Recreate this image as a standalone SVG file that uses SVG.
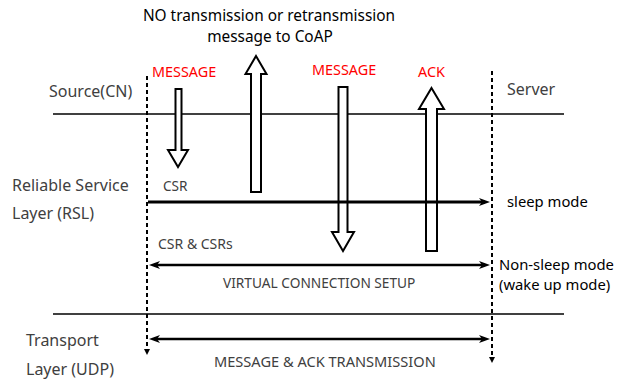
<svg xmlns="http://www.w3.org/2000/svg" width="623" height="382" viewBox="0 0 623 382">
<style>
text{font-family:"Noto Sans","Open Sans","DejaVu Sans",sans-serif;}
.lab{font-size:16px;fill:#404040;}
.blk{font-size:14.8px;fill:#000;}
.red{font-size:14.4px;fill:#ff0000;}
.sm{font-size:14px;fill:#404040;}
.dash{stroke:#000;stroke-width:2;stroke-dasharray:4 3;fill:none;}
.div{stroke:#000;stroke-width:1.3;}
.blockarrow{fill:#fff;stroke:#000;stroke-width:2;stroke-linejoin:miter;}
.harr{stroke:#000;fill:none;}
</style>
<defs>
<marker id="ah" markerUnits="userSpaceOnUse" markerWidth="12" markerHeight="9" refX="6" refY="4" orient="auto-start-reverse" viewBox="0 0 12 8">
<path d="M0,0 L11,4 L0,8 L3,4 Z" fill="#000"/>
</marker>
<marker id="sh" markerUnits="userSpaceOnUse" markerWidth="6" markerHeight="6" refX="3" refY="3" orient="auto" viewBox="0 0 6 6">
<path d="M0,0 L6,3 L0,6 Z" fill="#000"/>
</marker>
</defs>

<g id="dividers">
<line class="div" x1="53" y1="114" x2="564" y2="114"/>
<line class="div" x1="53" y1="314" x2="564" y2="314"/>
</g>

<g id="lifelines">
<line class="dash" x1="147" y1="76" x2="147" y2="352" marker-end="url(#sh)"/>
<line class="dash" x1="492" y1="71" x2="492" y2="360" marker-end="url(#sh)"/>
</g>

<g id="labels">
<text class="blk" x="269" y="21" text-anchor="middle" style="font-size:15.4px">NO transmission or retransmission</text>
<text class="blk" x="270" y="42" text-anchor="middle" style="font-size:15.4px">message to CoAP</text>
<text class="lab" x="49" y="97">Source(CN)</text>
<text class="lab" x="507" y="95">Server</text>
<text class="lab" x="12" y="191">Reliable Service</text>
<text class="lab" x="12" y="219">Layer (RSL)</text>
<text class="lab" x="26" y="346">Transport</text>
<text class="lab" x="26" y="375">Layer (UDP)</text>
<text class="blk" x="507" y="207">sleep mode</text>
<text class="blk" x="499" y="270">Non-sleep mode</text>
<text class="blk" x="499" y="290">(wake up mode)</text>
</g>

<g id="msg1">
<text class="red" x="152" y="77">MESSAGE</text>
<path class="blockarrow" d="M175.5,89 H181.5 V150 H188 L178,167 L168,150 H175.5 Z"/>
</g>
<g id="notx">
<path class="blockarrow" d="M256,56 L266.5,74 H261 V192 H251 V74 H245.5 Z"/>
</g>
<g id="msg2">
<text class="red" x="312" y="75">MESSAGE</text>
<path class="blockarrow" d="M338.5,87 H347.5 V232 H354 L343,251 L332,232 H338.5 Z"/>
</g>
<g id="ack">
<text class="red" x="418" y="77">ACK</text>
<path class="blockarrow" d="M431.5,88 L444,109 H437 V251 H426 V109 H419 Z"/>
</g>

<g id="connectors">
<line class="harr" x1="148" y1="202" x2="485" y2="202" stroke-width="3" marker-end="url(#ah)"/>
<line class="harr" x1="154" y1="265" x2="485" y2="265" stroke-width="2.5" marker-start="url(#ah)" marker-end="url(#ah)"/>
<line class="harr" x1="154" y1="339" x2="485" y2="339" stroke-width="2.5" marker-start="url(#ah)" marker-end="url(#ah)"/>
</g>

<g id="conn-labels">
<text class="sm" x="163" y="191" style="font-size:13.6px">CSR</text>
<text class="sm" x="158" y="249">CSR &amp; CSRs</text>
<text class="sm" x="223" y="288" style="font-size:13.7px">VIRTUAL CONNECTION SETUP</text>
<text class="sm" x="214" y="367" style="font-size:14.6px">MESSAGE &amp; ACK TRANSMISSION</text>
</g>
</svg>
